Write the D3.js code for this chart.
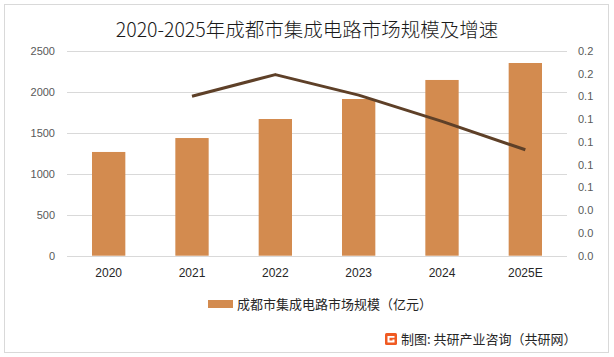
<!DOCTYPE html>
<html><head><meta charset="utf-8">
<script src="https://cdn.jsdelivr.net/npm/d3@7"></script>
<style>html,body{margin:0;padding:0;background:#fff;}svg{display:block;}</style>
</head><body>
<svg id="chart" width="614" height="357"></svg>
<script>
const categories = ["2020","2021","2022","2023","2024","2025E"];
const marketSize = [1265, 1435, 1667, 1911, 2143, 2350];
const growthCats = ["2021","2022","2023","2024","2025E"];
const growthRate = [0.140, 0.159, 0.141, 0.118, 0.093];
const leftTicks = [0, 500, 1000, 1500, 2000, 2500];
const rightTicks = [0, 0.02, 0.04, 0.06, 0.08, 0.10, 0.12, 0.14, 0.16, 0.18];
const titleText = "2020-2025年成都市集成电路市场规模及增速";
const legendText = "成都市集成电路市场规模（亿元）";
const sourceText = "制图: 共研产业咨询（共研网）";

const svg = d3.select("#chart");
const font = "'Noto Sans CJK SC','Microsoft YaHei',sans-serif";
const numFont = "'Liberation Sans','DejaVu Sans',sans-serif";

svg.append("rect").attr("x",4.5).attr("y",4.5).attr("width",604).attr("height",348)
  .attr("fill","#fff").attr("stroke","#d9d9d9").attr("stroke-width",1);

const margin = {left:67, right:567, top:50.7, bottom:255.7};
const x = d3.scaleBand().domain(categories).range([margin.left, margin.right]).paddingInner(0.6).paddingOuter(0.3);
const yL = d3.scaleLinear().domain([0,2500]).range([margin.bottom, margin.top]);
const yR = d3.scaleLinear().domain([0,0.18]).range([margin.bottom, margin.top]);

// gridlines
svg.append("g").selectAll("line").data(leftTicks).join("line")
  .attr("x1",margin.left).attr("x2",margin.right)
  .attr("y1",d=>Math.round(yL(d))+0.5).attr("y2",d=>Math.round(yL(d))+0.5)
  .attr("stroke","#d9d9d9").attr("stroke-width",1);

// left axis
const axL = d3.axisLeft(yL).tickValues(leftTicks).tickSize(0).tickPadding(12).tickFormat(d3.format("d"));
const gL = svg.append("g").attr("transform",`translate(${margin.left},0)`).call(axL);
gL.select(".domain").remove();
gL.selectAll("text").attr("font-family",numFont).attr("font-size",11).attr("fill","#595959");

// right axis
const axR = d3.axisRight(yR).tickValues(rightTicks).tickSize(0).tickPadding(11)
  .tickFormat(d=> d3.format(".1f")(d));
const gR = svg.append("g").attr("transform",`translate(${margin.right},0)`).call(axR);
gR.select(".domain").remove();
gR.selectAll("text").attr("font-family",numFont).attr("font-size",11).attr("fill","#595959");

// bars
svg.append("g").selectAll("rect").data(categories).join("rect")
  .attr("x",d=>x(d)).attr("width",x.bandwidth())
  .attr("y",(d,i)=>yL(marketSize[i])).attr("height",(d,i)=>yL(0)-yL(marketSize[i]))
  .attr("fill","#d38b4f");

// x axis
const axB = d3.axisBottom(x).tickSize(0).tickPadding(13);
const gB = svg.append("g").attr("transform",`translate(0,${margin.bottom})`).call(axB);
gB.select(".domain").remove();
gB.selectAll("text").attr("font-family",numFont).attr("font-size",12).attr("fill","#262626");

// line
const line = d3.line().x((d,i)=>x(growthCats[i])+x.bandwidth()/2).y(d=>yR(d));
svg.append("path").datum(growthRate).attr("d",line)
  .attr("fill","none").attr("stroke","#5e4028").attr("stroke-width",3).attr("stroke-linejoin","round");

// title
svg.append("text").attr("x",307).attr("y",37).attr("text-anchor","middle")
  .attr("font-family",font).attr("font-size",19.5).attr("font-weight",300).attr("fill","#1a1a1a").text(titleText);

// legend
svg.append("rect").attr("x",208).attr("y",300).attr("width",25).attr("height",8).attr("fill","#d38b4f");
svg.append("text").attr("x",237).attr("y",309).attr("font-family",font).attr("font-size",13)
  .attr("fill","#262626").text(legendText);

// source
const logo = svg.append("g").attr("transform","translate(385,333)");
logo.append("rect").attr("width",12).attr("height",12).attr("rx",1.5).attr("fill","#f05a22");
logo.append("path").attr("d","M2.5,3 H9.5 V4.8 H4.5 V7.5 H7.5 V6.5 H9.5 V9.5 H2.5 Z").attr("fill","#fff");
svg.append("text").attr("x",401).attr("y",344).attr("font-family",font).attr("font-size",13)
  .attr("fill","#262626").text(sourceText);
</script>
</body></html>
